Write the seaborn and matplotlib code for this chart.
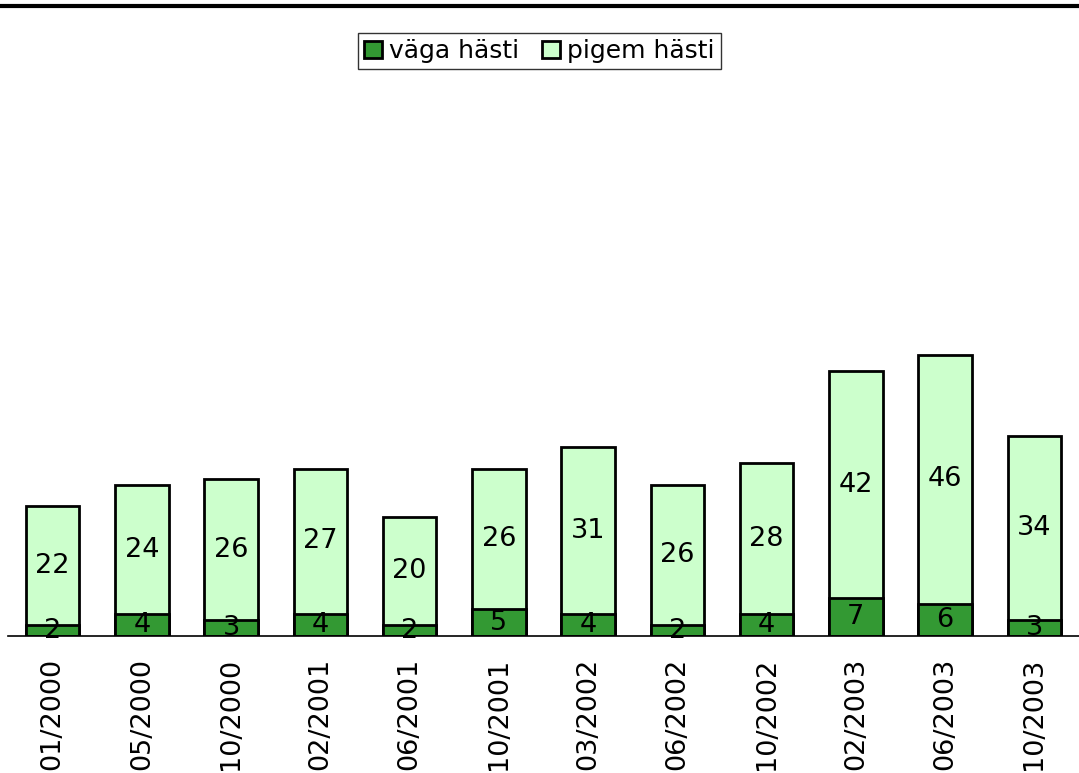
import matplotlib
matplotlib.use('Agg')
import matplotlib.pyplot as plt
from matplotlib.lines import Line2D
import seaborn as sns
import pandas as pd

# andmed
perioodid = ['01/2000', '05/2000', '10/2000', '02/2001', '06/2001', '10/2001',
             '03/2002', '06/2002', '10/2002', '02/2003', '06/2003', '10/2003']
vaga_hasti = [2, 4, 3, 4, 2, 5, 4, 2, 4, 7, 6, 3]
pigem_hasti = [22, 24, 26, 27, 20, 26, 31, 26, 28, 42, 46, 34]

df = pd.DataFrame({'periood': perioodid, 'vaga': vaga_hasti, 'pigem': pigem_hasti})
df['kokku'] = df['vaga'] + df['pigem']

tume = '#339933'
hele = '#ccffcc'

sns.set_style('white')
plt.rcParams['font.family'] = ['DejaVu Sans']
plt.rcParams['text.color'] = 'black'
plt.rcParams['xtick.color'] = 'black'

fig = plt.figure(figsize=(10.79, 7.73), dpi=100)
ax = fig.add_axes([8/1079, 137/773, 1071/1079, (636-80)/773])

# kogu tulp heledana, peale tume osa
sns.barplot(data=df, x='periood', y='kokku', color=hele, edgecolor='black',
            linewidth=2, width=0.6, saturation=1, ax=ax, label='pigem hästi')
sns.barplot(data=df, x='periood', y='vaga', color=tume, edgecolor='black',
            linewidth=2, width=0.6, saturation=1, ax=ax, label='väga hästi')

for i, r in df.iterrows():
    ax.text(i, r['vaga'] / 2, str(r['vaga']), ha='center', va='center', fontsize=19.5)
    ax.text(i, r['vaga'] + r['pigem'] / 2, str(r['pigem']), ha='center', va='center', fontsize=19.5)

ax.set_xlim(-0.5, 11.5)
ax.set_ylim(0, 556 / 5.4)
ax.set_xlabel('')
ax.set_ylabel('')
ax.set_yticks([])
ax.tick_params(axis='x', length=0, pad=16, labelsize=19.5, rotation=90, labelcolor='black')
for s in ['top', 'left', 'right']:
    ax.spines[s].set_visible(False)
ax.spines['bottom'].set_color('black')
ax.spines['bottom'].set_linewidth(1.2)
if ax.get_legend():
    ax.get_legend().remove()

# legend
h = [ax.containers[1], ax.containers[0]]
leg = fig.legend(h, ['väga hästi', 'pigem hästi'], loc='center', bbox_to_anchor=(0.5, 1 - 51/773),
                 ncol=2, fontsize=18, frameon=True, fancybox=False, edgecolor='black',
                 handlelength=0.7, handleheight=0.7, handletextpad=0.3, columnspacing=0.9,
                 borderpad=0.25, borderaxespad=0)
leg.get_frame().set_linewidth(1)
for t in leg.get_texts():
    t.set_color('black')

# joon üleval
fig.add_artist(Line2D([0, 1], [1 - 5.5/773, 1 - 5.5/773], color='black', linewidth=3))

plt.savefig('out.png', dpi=100)
